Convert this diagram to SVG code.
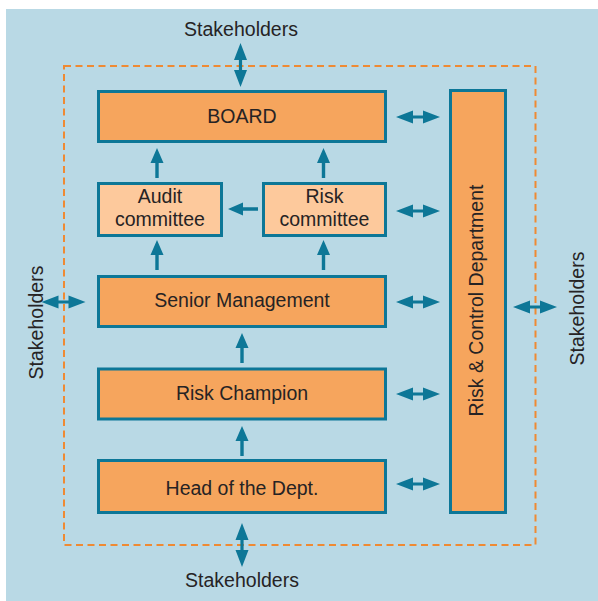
<svg xmlns="http://www.w3.org/2000/svg" xmlns:xlink="http://www.w3.org/1999/xlink" width="598" height="601" viewBox="0 0 598 601">
  <style>
    .bg { fill: #b9d9e5; }
    .frame { fill: none; stroke: #ef8a33; stroke-width: 2; stroke-dasharray: 7 4.5; }
    .box { fill: #f6a55d; stroke: #0d7797; stroke-width: 3; }
    .box.light { fill: #fdc99c; }
    .arrow { fill: #0d7797; }
    text { font-family: "Liberation Sans", Arial, sans-serif; font-size: 19.5px; fill: #262324; text-anchor: middle; }
  </style>
  <defs>
    <!-- single arrow pointing up, tip at origin -->
    <path id="arrowUp" d="M0,0 L6.5,15 L1.7,15 L1.7,30 L-1.7,30 L-1.7,15 L-6.5,15 Z"/>
    <!-- horizontal double-headed arrow centred at origin -->
    <path id="arrowBoth" d="M-22,0 L-5,-6.5 L-5,-1.6 L5,-1.6 L5,-6.5 L22,0 L5,6.5 L5,1.6 L-5,1.6 L-5,6.5 Z"/>
  </defs>

  <rect class="bg" x="6" y="9" width="592" height="592"/>
  <rect class="frame" x="64" y="66" width="471.5" height="479"/>

  <g id="board">
    <rect class="box" x="98.5" y="91.5" width="287" height="50"/>
    <text x="242" y="123">BOARD</text>
  </g>
  <g id="audit-committee">
    <rect class="box light" x="98.5" y="183.5" width="123" height="52"/>
    <text x="160" y="203">Audit</text>
    <text x="160" y="226">committee</text>
  </g>
  <g id="risk-committee">
    <rect class="box light" x="263.5" y="183.5" width="122" height="52"/>
    <text x="324.5" y="203">Risk</text>
    <text x="324.5" y="226">committee</text>
  </g>
  <g id="senior-management">
    <rect class="box" x="98.5" y="276.5" width="287" height="50"/>
    <text x="242" y="307">Senior Management</text>
  </g>
  <g id="risk-champion">
    <rect class="box" x="98.5" y="369" width="287" height="50"/>
    <text x="242" y="400">Risk Champion</text>
  </g>
  <g id="head-of-dept">
    <rect class="box" x="98.5" y="460.5" width="287" height="52"/>
    <text x="242" y="495">Head of the Dept.</text>
  </g>
  <g id="risk-control-dept">
    <rect class="box" x="450.5" y="90.5" width="55" height="422"/>
    <text transform="translate(483 300.5) rotate(-90)">Risk &amp; Control Department</text>
  </g>

  <g id="stakeholders-top"><text x="241" y="36">Stakeholders</text></g>
  <g id="stakeholders-bottom"><text x="242" y="587">Stakeholders</text></g>
  <g id="stakeholders-left"><text transform="translate(43 322.5) rotate(-90)">Stakeholders</text></g>
  <g id="stakeholders-right"><text transform="translate(584 308.5) rotate(-90)">Stakeholders</text></g>

  <g id="connectors" class="arrow">
    <!-- upward reporting lines -->
    <use xlink:href="#arrowUp" transform="translate(157 148)"/>
    <use xlink:href="#arrowUp" transform="translate(323.5 148)"/>
    <use xlink:href="#arrowUp" transform="translate(228 209) rotate(-90)"/>
    <use xlink:href="#arrowUp" transform="translate(157 240)"/>
    <use xlink:href="#arrowUp" transform="translate(323.5 240)"/>
    <use xlink:href="#arrowUp" transform="translate(242 333)"/>
    <use xlink:href="#arrowUp" transform="translate(242 426)"/>
    <!-- two-way links with the risk & control department -->
    <use xlink:href="#arrowBoth" transform="translate(418 117)"/>
    <use xlink:href="#arrowBoth" transform="translate(418 211)"/>
    <use xlink:href="#arrowBoth" transform="translate(418 302)"/>
    <use xlink:href="#arrowBoth" transform="translate(418 394)"/>
    <use xlink:href="#arrowBoth" transform="translate(418 484)"/>
    <!-- two-way links with stakeholders -->
    <use xlink:href="#arrowBoth" transform="translate(240.5 65) rotate(90)"/>
    <use xlink:href="#arrowBoth" transform="translate(242 545) rotate(90)"/>
    <use xlink:href="#arrowBoth" transform="translate(63.5 302)"/>
    <use xlink:href="#arrowBoth" transform="translate(535 307)"/>
  </g>
</svg>
